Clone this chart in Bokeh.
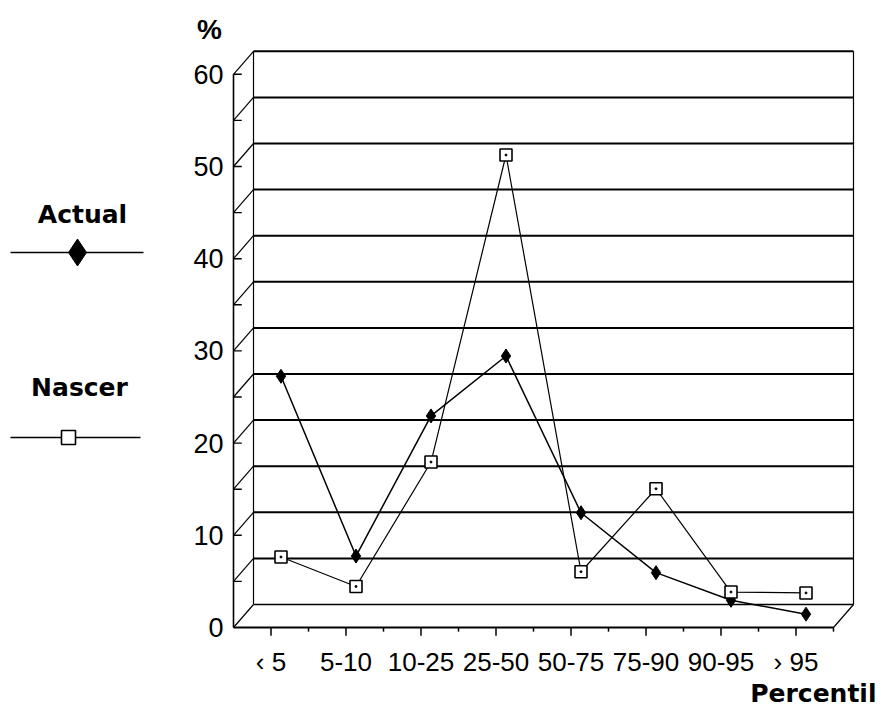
from bokeh.plotting import figure
from bokeh.models import Range1d, ColumnDataSource
from bokeh.core.properties import value
from bokeh.embed import file_html
from bokeh.resources import INLINE

# ---- data ----
categories = ["‹ 5", "5-10", "10-25", "25-50", "50-75", "75-90", "90-95", "› 95"]
actual = [26.0, 6.5, 21.7, 28.2, 11.2, 4.7, 1.7, 0.2]
nascer = [6.4, 3.2, 16.7, 50.0, 4.8, 13.8, 2.6, 2.5]
y_ticks = [0, 10, 20, 30, 40, 50, 60]
y_tick_labels = ["0", "10", "20", "30", "40", "50", "60"]
series_names = ["Actual", "Nascer"]
y_title = "%"
x_title = "Percentil"

# ---- layout (pixel geometry of the page) ----
W, H = 880, 713
OFF = 0                        # observed page offset of the figure
AX_X, AX_Y = 233.0, 627.0      # image px of front-axis origin
XS, YS = 75.0, 9.22            # px per category / px per unit
DX = 20.0 / XS                 # depth offset (x units)
DY = 23.0 / YS                 # depth offset (y units)
YMAX = 60
NC = len(categories)


def ix(px):
    return (px - AX_X) / XS


def iy(py):
    return (AX_Y - py) / YS


p = figure(width=W, height=H, output_backend="svg", toolbar_location=None,
           x_range=Range1d(ix(OFF), ix(OFF + W)), y_range=Range1d(iy(OFF + H), iy(OFF)),
           x_axis_type=None, y_axis_type=None, min_border=0,
           min_border_left=0, min_border_right=0, min_border_top=0, min_border_bottom=0)
p.grid.visible = False
p.outline_line_color = None
p.background_fill_color = "white"
p.border_fill_color = "white"

K = "black"

# back wall gridlines every 5
levels = list(range(5, YMAX + 1, 5))
p.multi_line(xs=[[DX, NC + DX] for v in levels], ys=[[v + DY, v + DY] for v in levels],
             line_color=K, line_width=2)
# back floor
p.line([DX, NC + DX], [DY, DY], line_color=K, line_width=1.6)
# back wall vertical edges
p.multi_line(xs=[[DX, DX], [NC + DX, NC + DX]], ys=[[DY, YMAX + DY], [DY, YMAX + DY]],
             line_color=K, line_width=1.2)
# front axis
p.line([0, 0], [0, YMAX], line_color=K, line_width=1.6)
# front floor
p.line([0, NC], [0, 0], line_color=K, line_width=2)
# left diagonals (front axis to back wall) every 5, incl. 0
diag_levels = list(range(0, YMAX + 1, 5))
p.multi_line(xs=[[0, DX] for v in diag_levels], ys=[[v, v + DY] for v in diag_levels],
             line_color=K, line_width=1.2)
# right floor diagonal
p.line([NC, NC + DX], [0, DY], line_color=K, line_width=1.2)
# short ticks on front axis
p.multi_line(xs=[[0, 0.11] for v in diag_levels[1:]], ys=[[v, v] for v in diag_levels[1:]],
             line_color=K, line_width=1.4)
# x ticks below front floor
long_t = [i + 0.5 for i in range(NC)]
short_t = [i for i in range(1, NC + 1)]
p.multi_line(xs=[[t, t] for t in long_t], ys=[[0, -0.9] for t in long_t], line_color=K, line_width=1.5)
p.multi_line(xs=[[t, t] for t in short_t], ys=[[0, -0.45] for t in short_t], line_color=K, line_width=1.5)

# ---- series (plotted at mid depth) ----
xs = [i + 0.5 + DX / 2 for i in range(NC)]
src_a = ColumnDataSource(dict(x=xs, y=[v + DY / 2 for v in actual]))
src_n = ColumnDataSource(dict(x=xs, y=[v + DY / 2 for v in nascer]))
p.line("x", "y", source=src_a, line_color=K, line_width=1.5)
p.line("x", "y", source=src_n, line_color=K, line_width=1.2)
p.scatter("x", "y", source=src_a, marker="diamond", size=14, fill_color=K, line_color=K)
p.scatter("x", "y", source=src_n, marker="square", size=12, fill_color="white", line_color=K, line_width=1.6)
p.scatter("x", "y", source=src_n, marker="circle", size=2, fill_color=K, line_color=K)

# ---- tick labels ----
FONT = value("Liberation Sans")
BOLD = value("DejaVu Sans")
p.text(x=[ix(223)] * len(y_ticks), y=y_ticks, text=y_tick_labels, text_font=FONT,
       text_font_size="27px", text_align="right", text_baseline="middle", text_color=K)
p.text(x=[i + 0.5 for i in range(NC)], y=[iy(661)] * NC, text=categories, text_font=FONT,
       text_font_size="26px", text_align="center", text_baseline="middle", text_color=K)

# ---- titles ----
p.text(x=[ix(209)], y=[iy(29)], text=[y_title], text_font=FONT, text_font_size="28px",
       text_font_style="bold", text_align="center", text_baseline="middle", text_color=K)
p.text(x=[ix(876)], y=[iy(693)], text=[x_title], text_font=BOLD, text_font_size="25px",
       text_font_style="bold", text_align="right", text_baseline="middle", text_color=K)

# ---- legend ----
p.text(x=[ix(82), ix(79)], y=[iy(214), iy(387)], text=series_names, text_font=BOLD,
       text_font_size="25px", text_font_style="bold", text_align="center",
       text_baseline="middle", text_color=K)
p.line([ix(10), ix(143)], [iy(252), iy(252)], line_color=K, line_width=1.5)
p.scatter([ix(77)], [iy(252)], marker="diamond", size=27, fill_color=K, line_color=K)
p.line([ix(10), ix(140)], [iy(437), iy(437)], line_color=K, line_width=1.5)
p.scatter([ix(68)], [iy(437)], marker="square", size=14, fill_color="white", line_color=K, line_width=1.6)

open("out.html", "w").write(file_html(p, INLINE))
